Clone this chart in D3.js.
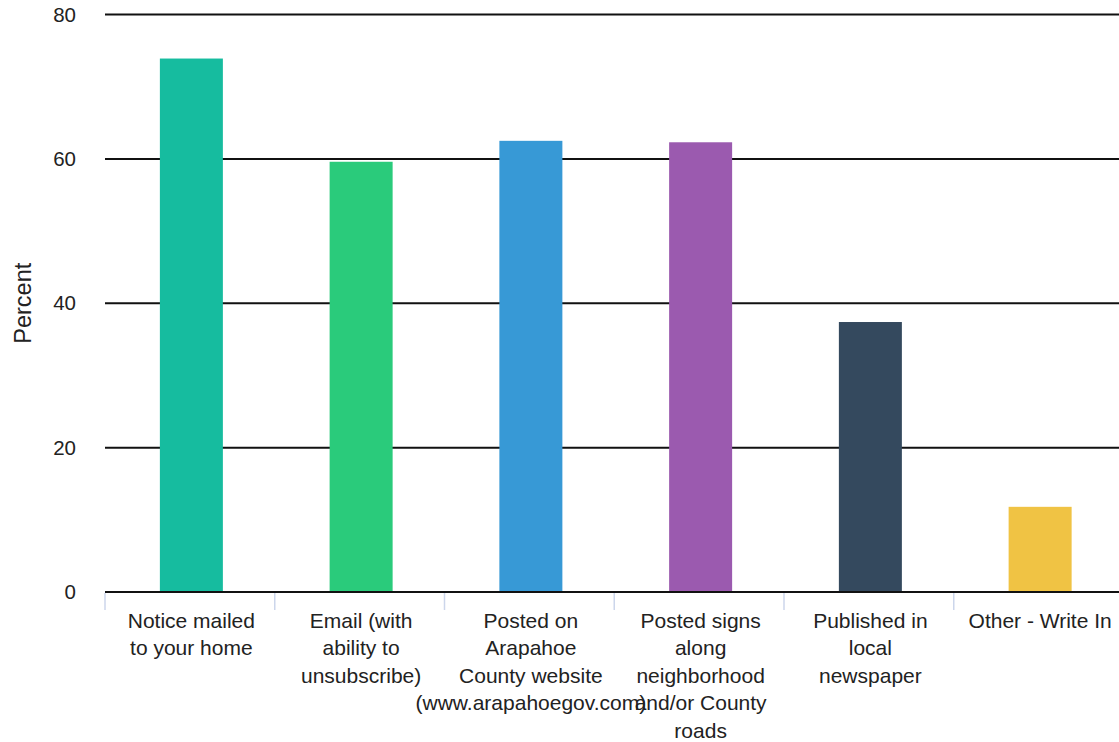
<!DOCTYPE html>
<html>
<head>
<meta charset="utf-8">
<script src="https://cdn.jsdelivr.net/npm/d3@7"></script>
<style>
  html, body { margin: 0; padding: 0; background: #fff; }
  svg { display: block; font-family: "Liberation Sans", Arial, Helvetica, sans-serif; }
</style>
</head>
<body>
<svg id="chart" width="1119" height="742"></svg>
<script>
// Survey: preferred ways to receive notices (percent of respondents)
const categories = [
  "Notice mailed to your home",
  "Email (with ability to unsubscribe)",
  "Posted on Arapahoe County website (www.arapahoegov.com)",
  "Posted signs along neighborhood and/or County roads",
  "Published in local newspaper",
  "Other - Write In"
];
const labelLines = [
  ["Notice mailed", "to your home"],
  ["Email (with", "ability to", "unsubscribe)"],
  ["Posted on", "Arapahoe", "County website", "(www.arapahoegov.com)"],
  ["Posted signs", "along", "neighborhood", "and/or County", "roads"],
  ["Published in", "local", "newspaper"],
  ["Other - Write In"]
];
const values = [73.9, 59.6, 62.5, 62.3, 37.4, 11.8];
const colors = ["#16bc9f", "#2acb7b", "#3799d6", "#9b5aaf", "#34495e", "#f0c344"];
const yTicks = [0, 20, 40, 60, 80];

const svg = d3.select("#chart");
const plotLeft = 105, plotRight = 1125, plotTop = 14.5, plotBottom = 592;

const x = d3.scaleBand().domain(categories).range([plotLeft + 1.5, plotRight]);
const y = d3.scaleLinear().domain([0, 80]).range([plotBottom, plotTop]);
const barW = 63;

// horizontal grid lines
svg.append("g").selectAll("line").data(yTicks).join("line")
  .attr("x1", plotLeft).attr("x2", plotRight)
  .attr("y1", d => y(d)).attr("y2", d => y(d))
  .attr("stroke", "#111").attr("stroke-width", 2);

// y tick labels
svg.append("g").selectAll("text").data(yTicks).join("text")
  .attr("x", 76).attr("y", d => y(d))
  .attr("dy", "0.35em")
  .attr("text-anchor", "end")
  .attr("font-size", 20.5)
  .attr("fill", "#222")
  .text(d => d);

// y axis title
svg.append("text")
  .attr("transform", `translate(31,${(plotTop + plotBottom) / 2}) rotate(-90)`)
  .attr("text-anchor", "middle")
  .attr("font-size", 23.5)
  .attr("fill", "#222")
  .text("Percent");

// bars
svg.append("g").selectAll("rect").data(values).join("rect")
  .attr("x", (d, i) => x(categories[i]) + (x.bandwidth() - barW) / 2)
  .attr("width", barW)
  .attr("y", d => y(d))
  .attr("height", d => y(0) - y(d))
  .attr("fill", (d, i) => colors[i]);

// baseline redrawn over bars
svg.append("line")
  .attr("x1", plotLeft).attr("x2", plotRight)
  .attr("y1", y(0)).attr("y2", y(0))
  .attr("stroke", "#111").attr("stroke-width", 2);

// category tick marks at band boundaries
svg.append("g").selectAll("line").data(categories).join("line")
  .attr("x1", d => x(d) - 1.5).attr("x2", d => x(d) - 1.5)
  .attr("y1", y(0) + 1).attr("y2", y(0) + 18)
  .attr("stroke", "#ccd6eb").attr("stroke-width", 1.5);

// category labels
const lab = svg.append("g").selectAll("text").data(categories).join("text")
  .attr("text-anchor", "middle")
  .attr("font-size", 21)
  .attr("fill", "#222");
lab.each(function(d, i) {
  const t = d3.select(this);
  const cx = x(d) + x.bandwidth() / 2;
  labelLines[i].forEach((ln, j) => {
    t.append("tspan").attr("x", cx).attr("y", 628 + j * 27.4).text(ln);
  });
});
</script>
</body>
</html>
